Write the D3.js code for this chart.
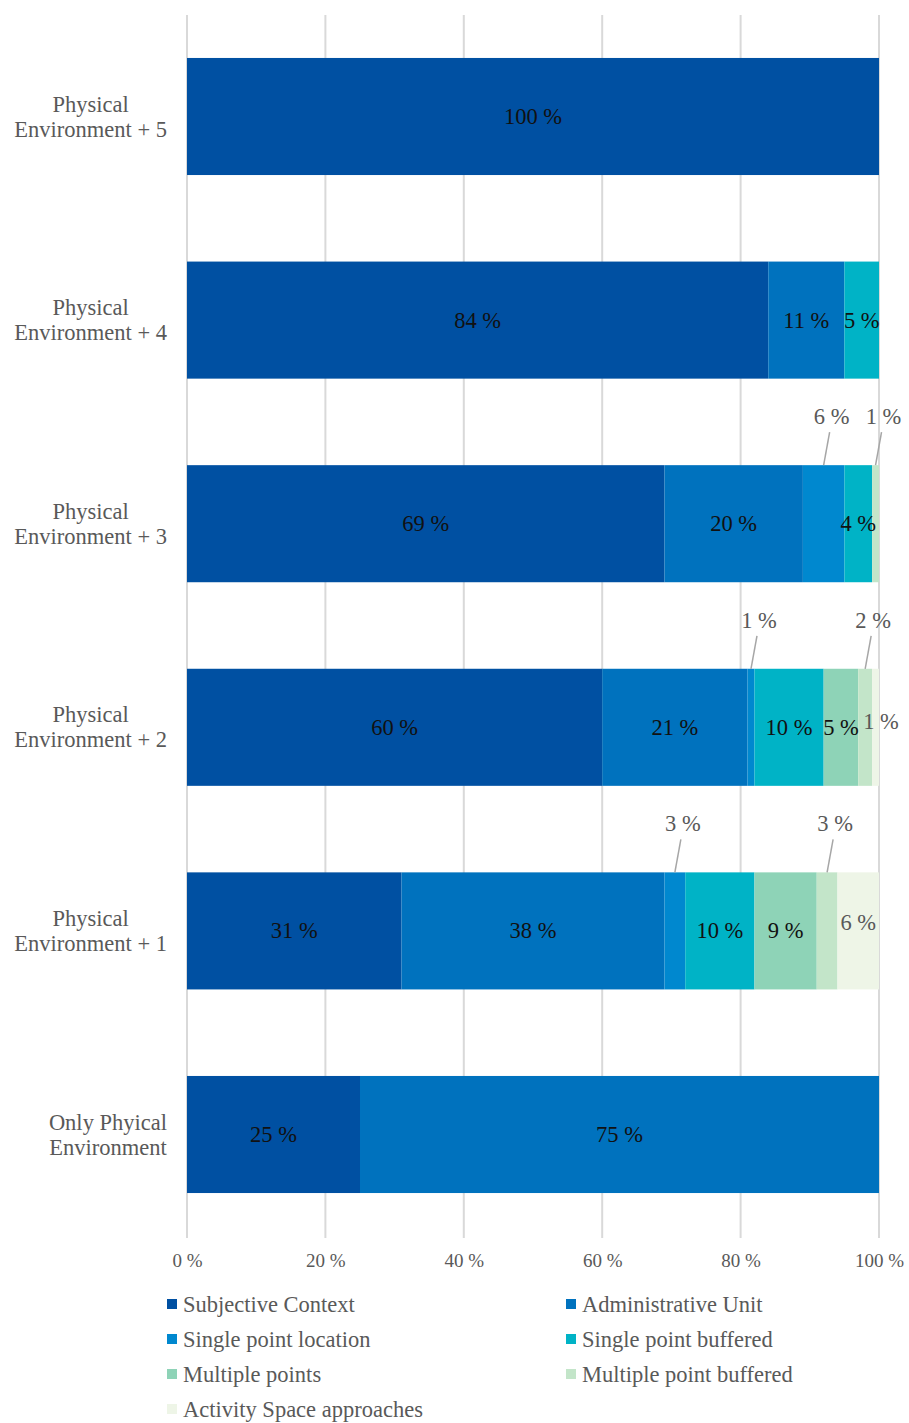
<!DOCTYPE html>
<html>
<head>
<meta charset="utf-8">
<script src="https://cdn.jsdelivr.net/npm/d3@7"></script>
<style>
  html, body { margin: 0; padding: 0; background: #ffffff; }
  svg { display: block; }
  text { font-family: "Liberation Serif", "Times New Roman", serif; }
</style>
</head>
<body>
<svg id="chart" width="909" height="1423"></svg>
<script>
// Categories, top to bottom (each label split over two lines)
const categories = [
  "Physical|Environment + 5",
  "Physical|Environment + 4",
  "Physical|Environment + 3",
  "Physical|Environment + 2",
  "Physical|Environment + 1",
  "Only Phyical|Environment"
];

// Series names in stacking order
const seriesNames = [
  "Subjective Context",
  "Administrative Unit",
  "Single point location",
  "Single point buffered",
  "Multiple points",
  "Multiple point buffered",
  "Activity Space approaches"
];

const seriesColors = [
  "#0050A2", "#0072BE", "#0088CF", "#00B3C6", "#8ED3B7", "#C3E5C9", "#EEF5E7"
];

// Shares (%) per category, same order as categories
const subjectiveContext     = [100, 84, 69, 60, 31, 25];
const administrativeUnit    = [0, 11, 20, 21, 38, 75];
const singlePointLocation   = [0, 0, 6, 1, 3, 0];
const singlePointBuffered   = [0, 5, 4, 10, 10, 0];
const multiplePoints        = [0, 0, 0, 5, 9, 0];
const multiplePointBuffered = [0, 0, 1, 2, 3, 0];
const activitySpace         = [0, 0, 0, 1, 6, 0];

const tickValues = [0, 20, 40, 60, 80, 100];

// Segments whose label sits above the bar with a leader line,
// and segments whose label sits just right of the bar end
const calloutAbove = [
  [2, 2], [2, 5], [3, 2], [3, 5], [4, 2], [4, 5]
];
const calloutRight = [[3, 6]];

const seriesValues = [
  subjectiveContext, administrativeUnit, singlePointLocation,
  singlePointBuffered, multiplePoints, multiplePointBuffered, activitySpace
];

const rows = categories.map((c, i) => {
  const r = { cat: c };
  seriesNames.forEach((s, j) => { r[s] = seriesValues[j][i]; });
  return r;
});
const stacked = d3.stack().keys(seriesNames)(rows);

const svg = d3.select("#chart");
const grey = "#595959";
const fs = 22.5;

const x = d3.scaleLinear().domain([0, 100]).range([187, 879]);
const y = d3.scaleBand().domain(categories).range([14.7, 1236.3])
  .paddingInner(0.425).paddingOuter(0.2125);

// Gridlines
svg.append("g").selectAll("line").data(tickValues).join("line")
  .attr("x1", d => x(d)).attr("x2", d => x(d))
  .attr("y1", 15).attr("y2", 1238)
  .attr("stroke", "#D9D9D9").attr("stroke-width", 2);

// Bars
const layers = svg.append("g").selectAll("g").data(stacked).join("g")
  .attr("fill", (d, i) => seriesColors[i]);
layers.selectAll("rect").data(d => d.filter(p => p[1] - p[0] > 0)).join("rect")
  .attr("x", d => x(d[0]))
  .attr("width", d => x(d[1]) - x(d[0]))
  .attr("y", d => y(d.data.cat))
  .attr("height", y.bandwidth());

// Value labels
const isIn = (list, ci, si) => list.some(p => p[0] === ci && p[1] === si);
const labelG = svg.append("g").attr("font-size", fs);
stacked.forEach((layer, si) => {
  layer.forEach((p, ci) => {
    const v = p[1] - p[0];
    if (v <= 0) return;
    const cx = (x(p[0]) + x(p[1])) / 2;
    const top = y(p.data.cat);
    const mid = top + y.bandwidth() / 2;
    const txt = v + " %";
    if (isIn(calloutAbove, ci, si)) {
      labelG.append("line")
        .attr("x1", cx).attr("y1", top)
        .attr("x2", cx + 6).attr("y2", top - 33)
        .attr("stroke", "#A6A6A6").attr("stroke-width", 1.5);
      labelG.append("text")
        .attr("x", cx + 8).attr("y", top - 41)
        .attr("text-anchor", "middle").attr("fill", grey)
        .text(txt);
    } else if (isIn(calloutRight, ci, si)) {
      labelG.append("text")
        .attr("x", x(p[1]) + 2).attr("y", mid - 6)
        .attr("text-anchor", "middle").attr("dominant-baseline", "central")
        .attr("fill", grey)
        .text(txt);
    } else {
      const light = si === 6;
      labelG.append("text")
        .attr("x", cx).attr("y", light ? mid - 8 : mid)
        .attr("text-anchor", "middle").attr("dominant-baseline", "central")
        .attr("fill", light ? grey : "#111111")
        .text(txt);
    }
  });
});

// Category labels: each line centred within a block right-aligned at the axis
const catG = svg.append("g").attr("font-size", fs).attr("fill", grey);
categories.forEach(c => {
  const lines = c.split("|");
  const mid = y(c) + y.bandwidth() / 2;
  const texts = lines.map((l, k) => catG.append("text")
    .attr("y", mid + (k - (lines.length - 1) / 2) * 25)
    .attr("dominant-baseline", "central")
    .attr("text-anchor", "middle")
    .text(l));
  const w = d3.max(texts, t => t.node().getComputedTextLength());
  texts.forEach(t => t.attr("x", 167 - w / 2));
});

// X axis tick labels
const axis = d3.axisBottom(x).tickValues(tickValues)
  .tickFormat(d => d + " %").tickSize(0).tickPadding(0);
const axisG = svg.append("g").attr("transform", "translate(0,1260)").call(axis);
axisG.select(".domain").remove();
axisG.selectAll("text")
  .attr("font-family", "Liberation Serif, Times New Roman, serif")
  .attr("font-size", 19).attr("fill", grey)
  .attr("dy", null).attr("y", 0)
  .attr("dominant-baseline", "central");

// Legend: two columns
const legG = svg.append("g").attr("font-size", fs).attr("fill", grey);
seriesNames.forEach((s, i) => {
  const col = i % 2, row = Math.floor(i / 2);
  const lx = col === 0 ? 167 : 566;
  const ly = 1304 + row * 35;
  legG.append("rect").attr("x", lx).attr("y", ly - 5)
    .attr("width", 10).attr("height", 10).attr("fill", seriesColors[i]);
  legG.append("text").attr("x", lx + 16).attr("y", ly)
    .attr("dominant-baseline", "central").text(s);
});
</script>
</body>
</html>
